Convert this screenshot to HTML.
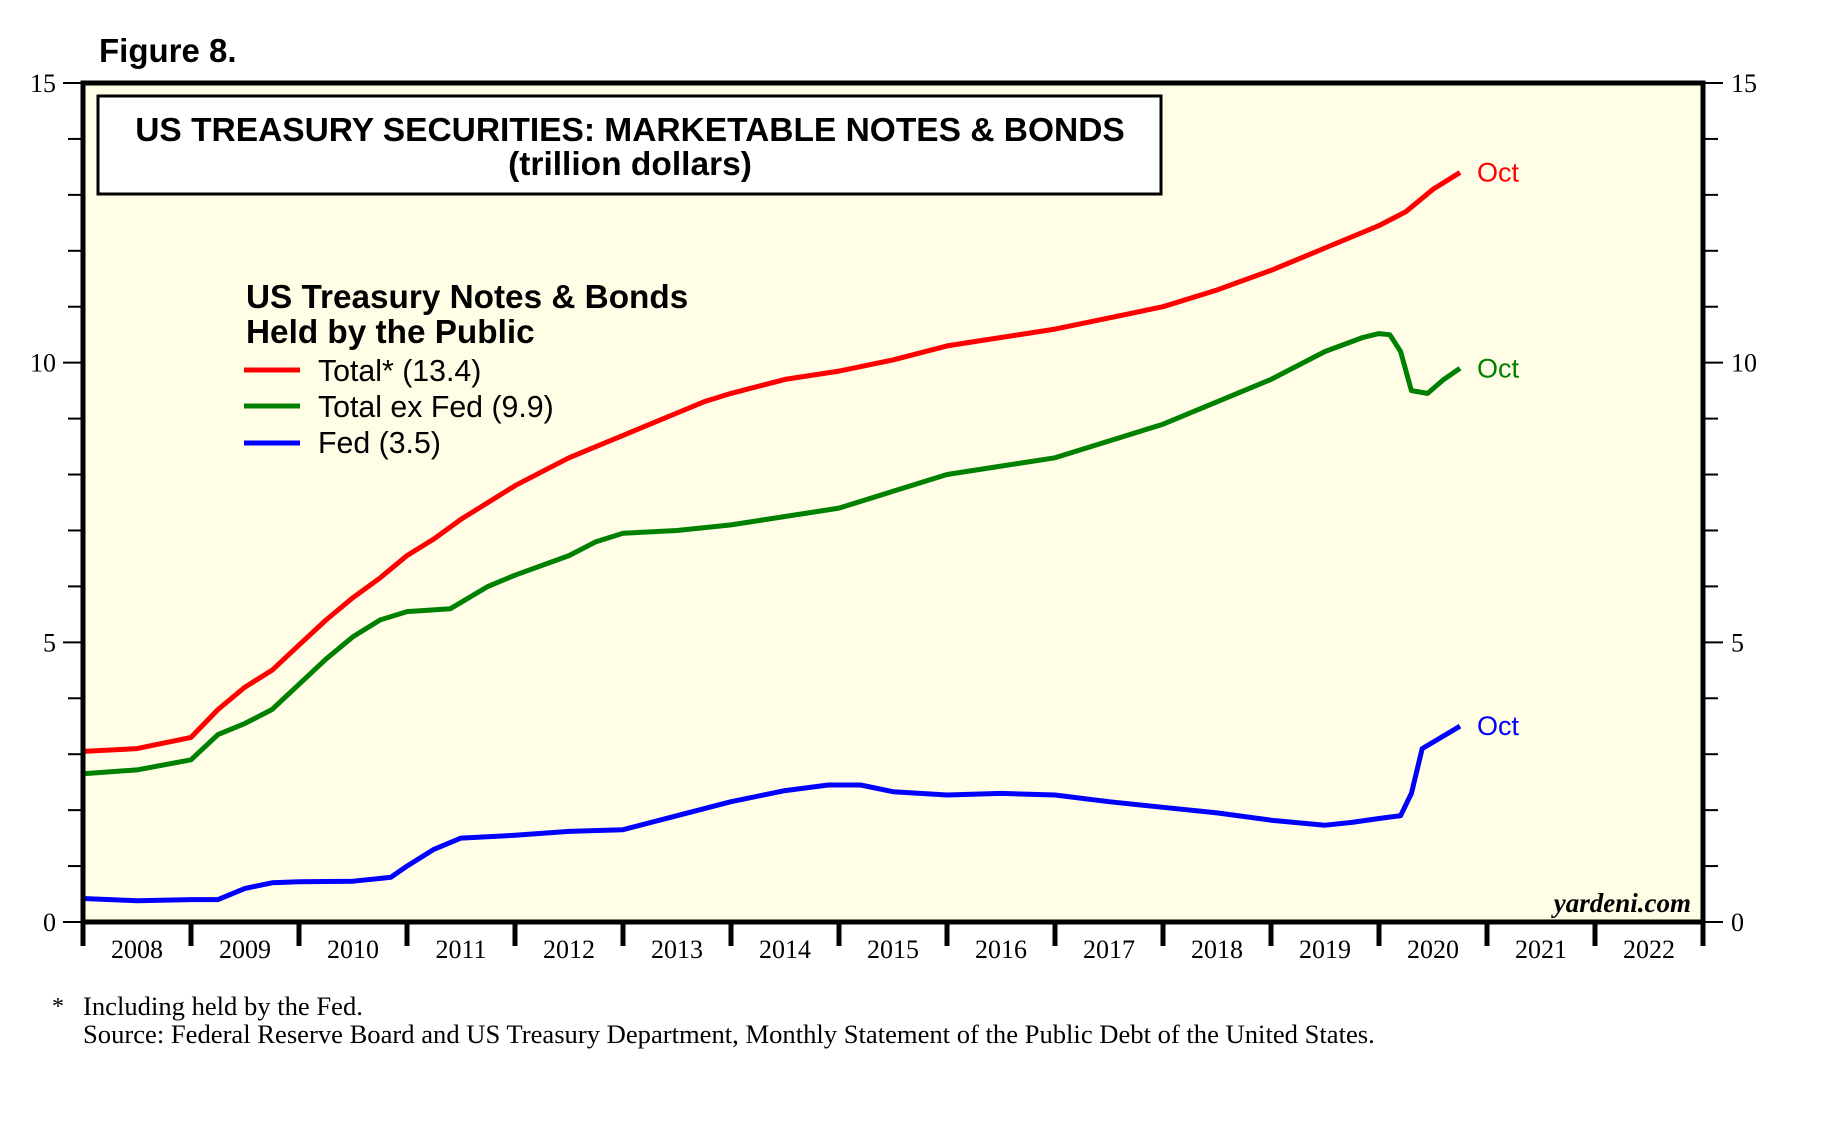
<!DOCTYPE html>
<html><head><meta charset="utf-8"><style>
body{margin:0;background:#fff;}
svg{display:block;}
text{font-family:"Liberation Sans",sans-serif;}
.serif{font-family:"Liberation Serif",serif;}
</style></head><body>
<svg id="chart" width="1835" height="1124" viewBox="0 0 1835 1124">
<text x="99" y="62" font-size="33" font-weight="bold">Figure 8.</text>
<rect x="83" y="83" width="1620" height="839" fill="#fffde6"/>
<g id="axes"></g>
<g id="series"></g>
<rect x="83" y="83" width="1620" height="839" fill="none" stroke="#000" stroke-width="5"/>
<rect x="98" y="96" width="1063" height="98" fill="#fff" stroke="#000" stroke-width="3"/>
<text x="630" y="141" font-size="33.5" font-weight="bold" text-anchor="middle">US TREASURY SECURITIES: MARKETABLE NOTES &amp; BONDS</text>
<text x="630" y="175" font-size="33.5" font-weight="bold" text-anchor="middle">(trillion dollars)</text>
<g>
<text x="246" y="308" font-size="33.3" font-weight="bold">US Treasury Notes &amp; Bonds</text>
<text x="246" y="343" font-size="33.3" font-weight="bold">Held by the Public</text>
<line x1="244" y1="370" x2="300" y2="370" stroke="#f00" stroke-width="5"/>
<text x="318" y="381" font-size="30.3">Total* (13.4)</text>
<line x1="244" y1="406" x2="300" y2="406" stroke="#008000" stroke-width="5"/>
<text x="318" y="417" font-size="30.3">Total ex Fed (9.9)</text>
<line x1="244" y1="443" x2="300" y2="443" stroke="#00f" stroke-width="5"/>
<text x="318" y="453" font-size="30.3">Fed (3.5)</text>
</g>
<text x="1691" y="912" font-size="27" font-style="italic" font-weight="bold" class="serif" text-anchor="end">yardeni.com</text>
<text x="52" y="1014" font-size="24" class="serif">*</text>
<text x="83" y="1015" font-size="26.6" class="serif">Including held by the Fed.</text>
<text x="83" y="1043" font-size="26.6" class="serif">Source: Federal Reserve Board and US Treasury Department, Monthly Statement of the Public Debt of the United States.</text>
</svg>
<script>
const yearLabels=["2008","2009","2010","2011","2012","2013","2014","2015","2016","2017","2018","2019","2020","2021","2022"];
const yTicks=[0,5,10,15];
const totalX=[2008.0,2008.5,2009.0,2009.25,2009.5,2009.75,2010.0,2010.25,2010.5,2010.75,2011.0,2011.25,2011.5,2011.75,2012.0,2012.25,2012.5,2012.75,2013.0,2013.25,2013.5,2013.75,2014.0,2014.5,2015.0,2015.5,2016.0,2016.5,2017.0,2017.5,2018.0,2018.5,2019.0,2019.5,2020.0,2020.25,2020.5,2020.75];
const totalY=[3.05,3.1,3.3,3.8,4.2,4.5,4.95,5.4,5.8,6.15,6.55,6.85,7.2,7.5,7.8,8.05,8.3,8.5,8.7,8.9,9.1,9.3,9.45,9.7,9.85,10.05,10.3,10.45,10.6,10.8,11.0,11.3,11.65,12.05,12.45,12.7,13.1,13.4];
const exFedX=[2008.0,2008.5,2009.0,2009.25,2009.5,2009.75,2010.0,2010.25,2010.5,2010.75,2011.0,2011.4,2011.75,2012.0,2012.5,2012.75,2013.0,2013.5,2014.0,2014.5,2015.0,2015.5,2016.0,2016.5,2017.0,2017.5,2018.0,2018.5,2019.0,2019.5,2019.85,2020.0,2020.1,2020.2,2020.3,2020.45,2020.6,2020.75];
const exFedY=[2.65,2.72,2.9,3.35,3.55,3.8,4.25,4.7,5.1,5.4,5.55,5.6,6.0,6.2,6.55,6.8,6.95,7.0,7.1,7.25,7.4,7.7,8.0,8.15,8.3,8.6,8.9,9.3,9.7,10.2,10.45,10.52,10.5,10.2,9.5,9.45,9.7,9.9];
const fedX=[2008.0,2008.5,2009.0,2009.25,2009.5,2009.75,2010.0,2010.5,2010.85,2011.0,2011.25,2011.5,2012.0,2012.5,2013.0,2013.5,2014.0,2014.5,2014.9,2015.2,2015.5,2016.0,2016.5,2017.0,2017.5,2018.0,2018.5,2019.0,2019.5,2019.75,2020.0,2020.2,2020.3,2020.4,2020.75];
const fedY=[0.42,0.38,0.4,0.4,0.6,0.7,0.72,0.73,0.8,1.0,1.3,1.5,1.55,1.62,1.65,1.9,2.15,2.35,2.45,2.45,2.33,2.27,2.3,2.27,2.15,2.05,1.95,1.82,1.73,1.78,1.85,1.9,2.3,3.1,3.5];
const L=83,R=1703,T=83,B=922,x0=2008,x1=2023,yMax=15;
function xs(v){return L+(v-x0)/(x1-x0)*(R-L);}
function ys(v){return B-v/yMax*(B-T);}
const NS="http://www.w3.org/2000/svg";
const axes=document.getElementById('axes'),ser=document.getElementById('series');
function mk(tag,attrs,parent){const e=document.createElementNS(NS,tag);for(const k in attrs)e.setAttribute(k,attrs[k]);parent.appendChild(e);return e;}
for(let v=0;v<=yMax;v++){
 const major=v%5===0;
 const y=ys(v);
 const a=mk('line',{x1:major?63:68,y1:y,x2:L,y2:y,stroke:'#000','stroke-width':2},axes);
 
 
 const b=mk('line',{x1:R,y1:y,x2:major?1723:1718,y2:y,stroke:'#000','stroke-width':2},axes);
 
 
}
yTicks.forEach(v=>{
 const t=mk('text',{x:56,y:ys(v)+9,'font-size':26,'text-anchor':'end',class:'serif'},axes);t.textContent=v;
 
 
 const t2=mk('text',{x:1731,y:ys(v)+9,'font-size':26,class:'serif'},axes);t2.textContent=v;
 
 
});
for(let i=0;i<=yearLabels.length;i++){
 const x=xs(x0+i);
 const l=mk('line',{x1:x,y1:B,x2:x,y2:946,stroke:'#000','stroke-width':5},axes);
 
 
}
yearLabels.forEach((s,i)=>{
 const t=mk('text',{x:xs(x0+i+0.5),y:958,'font-size':26,'text-anchor':'middle',class:'serif'},axes);t.textContent=s;
 
 
});
function line(X,Y,color,name){
 const d=X.map((v,i)=>(i?'L':'M')+xs(v).toFixed(1)+','+ys(Y[i]).toFixed(1)).join('');
 const p=mk('path',{d:d,fill:'none',stroke:color,'stroke-width':5,'stroke-linejoin':'round'},ser);
 
 
 const n=X.length-1;
 const t=mk('text',{x:xs(X[n])+17,y:ys(Y[n])+9,'font-size':27,fill:color},ser);t.textContent='Oct';
 
 
}
line(totalX,totalY,'#f00','total-line');
line(exFedX,exFedY,'#008000','total-ex-fed-line');
line(fedX,fedY,'#00f','fed-line');
</script>
</body></html>
